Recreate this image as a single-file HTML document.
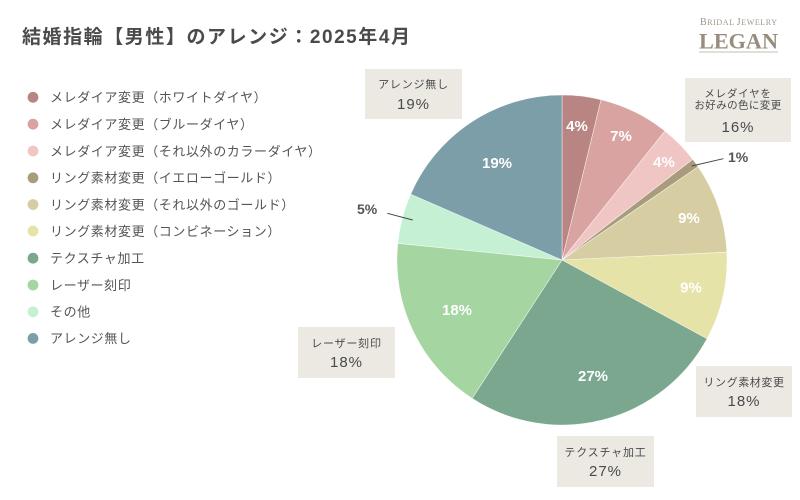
<!DOCTYPE html>
<html><head><meta charset="utf-8"><style>
html,body{margin:0;padding:0;background:#fff;}
svg{display:block;}
text{font-family:"Liberation Sans","Noto Sans CJK JP",sans-serif;}
</style></head><body>
<svg width="800" height="500" viewBox="0 0 800 500" xmlns="http://www.w3.org/2000/svg">
<rect width="800" height="500" fill="#fff"/>
<!-- Title -->
<text x="22" y="43" font-size="19" font-weight="bold" fill="#4a4a4a" textLength="388" lengthAdjust="spacing">結婚指輪【男性】のアレンジ：2025年4月</text>
<!-- Logo -->
<text x="700" y="25" fill="#a09686" style="font-family:'Liberation Serif',serif" textLength="77" lengthAdjust="spacing"><tspan font-size="10">B</tspan><tspan font-size="8">RIDAL </tspan><tspan font-size="10">J</tspan><tspan font-size="8">EWELRY</tspan></text>
<text x="699" y="48.5" fill="#978d7d" font-size="22" font-weight="bold" style="font-family:'Liberation Serif',serif" textLength="79" lengthAdjust="spacingAndGlyphs">LEGAN</text>
<line x1="699" y1="52" x2="778" y2="52" stroke="#b3aa9c" stroke-width="0.8"/>
<!-- Legend -->
<g font-size="13" fill="#555" letter-spacing="0.6">
<circle cx="33" cy="97.3" r="5.4" fill="#b88583"/><text x="50" y="102">メレダイア変更（ホワイトダイヤ）</text>
<circle cx="33" cy="124.2" r="5.4" fill="#d9a3a1"/><text x="50" y="129">メレダイア変更（ブルーダイヤ）</text>
<circle cx="33" cy="151" r="5.4" fill="#f0c6c5"/><text x="50" y="156">メレダイア変更（それ以外のカラーダイヤ）</text>
<circle cx="33" cy="177.8" r="5.4" fill="#a89c7c"/><text x="50" y="182.5">リング素材変更（イエローゴールド）</text>
<circle cx="33" cy="204.5" r="5.4" fill="#d6cea2"/><text x="50" y="209.3">リング素材変更（それ以外のゴールド）</text>
<circle cx="33" cy="231" r="5.4" fill="#e6e3a9"/><text x="50" y="235.8">リング素材変更（コンビネーション）</text>
<circle cx="33" cy="258.2" r="5.4" fill="#7aa78d"/><text x="50" y="263">テクスチャ加工</text>
<circle cx="33" cy="285" r="5.4" fill="#a5d6a2"/><text x="50" y="289.8">レーザー刻印</text>
<circle cx="33" cy="311.8" r="5.4" fill="#c6f0d3"/><text x="50" y="316.5">その他</text>
<circle cx="33" cy="338.4" r="5.4" fill="#7b9ea8"/><text x="50" y="343.2">アレンジ無し</text>
</g>
<!-- Pie -->
<g stroke="#fff" stroke-width="0.6" stroke-opacity="0.7">
<path d="M562,260 L562,95 A165,165 0 0 1 601.07,99.69 Z" fill="#b88583"/>
<path d="M562,260 L601.07,99.69 A165,165 0 0 1 664.94,131.05 Z" fill="#d9a3a1"/>
<path d="M562,260 L664.94,131.05 A165,165 0 0 1 692.73,159.33 Z" fill="#f0c6c5"/>
<path d="M562,260 L692.73,159.33 A165,165 0 0 1 698.14,166.77 Z" fill="#a89c7c"/>
<path d="M562,260 L698.14,166.77 A165,165 0 0 1 726.82,252.23 Z" fill="#d6cea2"/>
<path d="M562,260 L726.82,252.23 A165,165 0 0 1 707.0,338.74 Z" fill="#e6e3a9"/>
<path d="M562,260 L707.0,338.74 A165,165 0 0 1 472.14,398.38 Z" fill="#7aa78d"/>
<path d="M562,260 L472.14,398.38 A165,165 0 0 1 397.84,243.32 Z" fill="#a5d6a2"/>
<path d="M562,260 L397.84,243.32 A165,165 0 0 1 410.68,194.21 Z" fill="#c6f0d3"/>
<path d="M562,260 L410.68,194.21 A165,165 0 0 1 562,95 Z" fill="#7b9ea8"/>
</g>
<!-- In-slice labels -->
<g font-size="15" font-weight="bold" fill="#fff" text-anchor="middle">
<text x="577" y="131">4%</text>
<text x="621" y="141">7%</text>
<text x="664" y="167">4%</text>
<text x="689" y="223">9%</text>
<text x="691" y="292.5">9%</text>
<text x="593" y="381">27%</text>
<text x="457" y="315">18%</text>
<text x="497" y="168">19%</text>
</g>
<!-- Outside small labels -->
<line x1="691.7" y1="166" x2="723.3" y2="158.7" stroke="#444" stroke-width="1"/>
<text x="728" y="162" font-size="14" font-weight="bold" fill="#555">1%</text>
<line x1="387.3" y1="213.3" x2="412.7" y2="220" stroke="#444" stroke-width="1"/>
<text x="357" y="214" font-size="14" font-weight="bold" fill="#555">5%</text>
<!-- Callout boxes -->
<g fill="#ece9e3">
<rect x="365" y="69" width="97" height="50"/>
<rect x="685" y="78" width="106" height="64"/>
<rect x="298" y="327" width="97" height="51"/>
<rect x="696" y="366" width="96" height="51"/>
<rect x="557" y="436" width="97" height="51"/>
</g>
<g text-anchor="middle" fill="#4a4a4a">
<text x="413.5" y="88" font-size="11" letter-spacing="0.8">アレンジ無し</text>
<text x="413.5" y="109" font-size="15" letter-spacing="1">19%</text>
<text x="738" y="97" font-size="10.5" letter-spacing="0.8">メレダイヤを</text>
<text x="738" y="108.5" font-size="10.5" letter-spacing="0.4">お好みの色に変更</text>
<text x="738" y="132" font-size="15" letter-spacing="1">16%</text>
<text x="346.5" y="347" font-size="11" letter-spacing="0.8">レーザー刻印</text>
<text x="346.5" y="367" font-size="15" letter-spacing="1">18%</text>
<text x="744" y="386" font-size="11" letter-spacing="0.6">リング素材変更</text>
<text x="744" y="406" font-size="15" letter-spacing="1">18%</text>
<text x="605.5" y="456" font-size="11" letter-spacing="0.8">テクスチャ加工</text>
<text x="605.5" y="476" font-size="15" letter-spacing="1">27%</text>
</g>
</svg>
</body></html>
